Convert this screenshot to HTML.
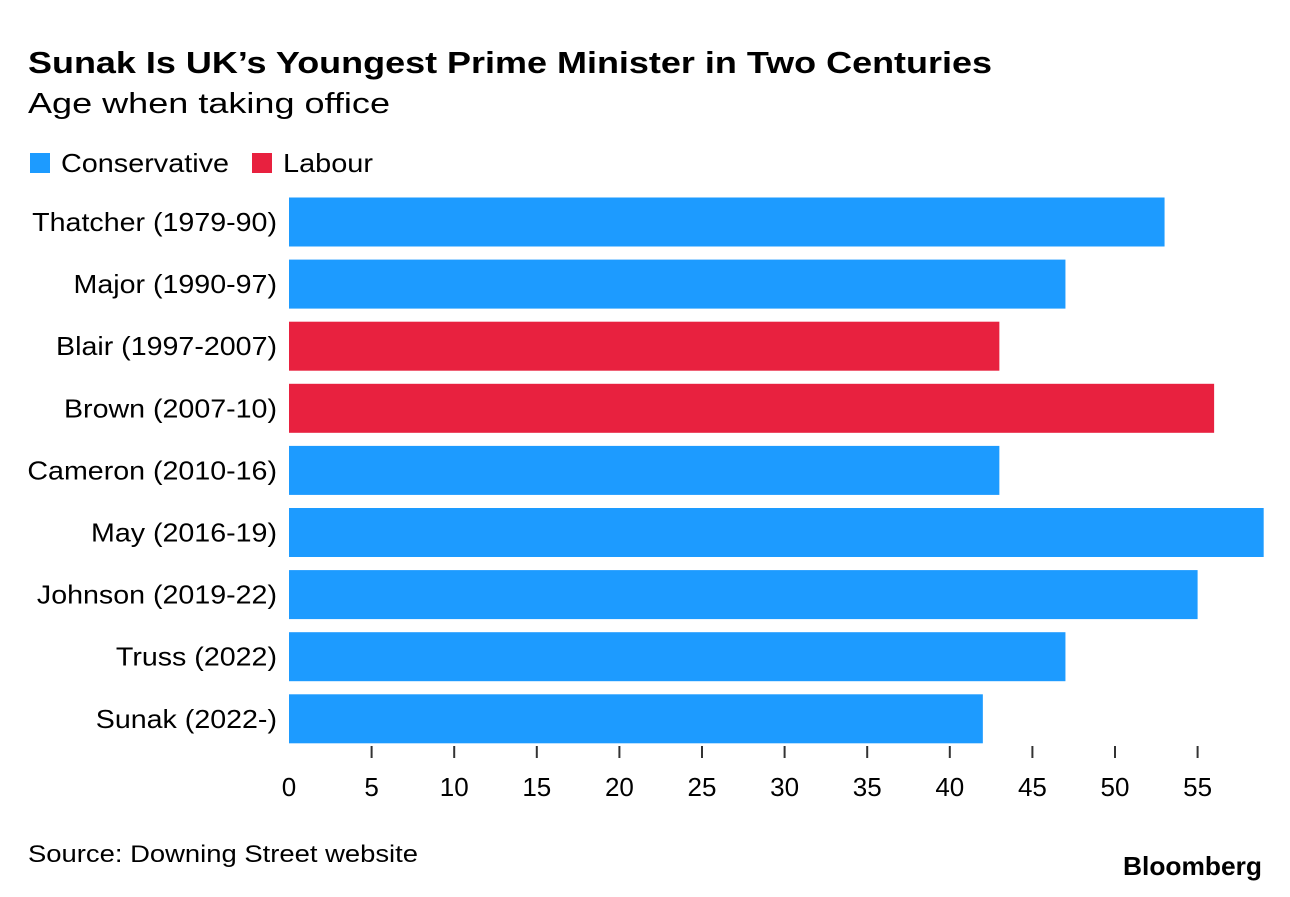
<!DOCTYPE html>
<html><head><meta charset="utf-8"><style>
body{margin:0;background:#fff;width:1290px;height:892px;overflow:hidden;font-family:"Liberation Sans",sans-serif}
svg text{font-family:"Liberation Sans",sans-serif}
</style></head><body>
<svg id="chart" width="1290" height="892" xmlns="http://www.w3.org/2000/svg">
<text x="28" y="73" font-size="31" font-weight="bold" fill="#000" textLength="964" lengthAdjust="spacingAndGlyphs">Sunak Is UK’s Youngest Prime Minister in Two Centuries</text>
<text x="28" y="113" font-size="29" fill="#000" textLength="362" lengthAdjust="spacingAndGlyphs">Age when taking office</text>
<g>
<rect x="30" y="153" width="20" height="20" fill="#1D9BFF"/>
<text x="61" y="172" font-size="26" fill="#000" textLength="168" lengthAdjust="spacingAndGlyphs">Conservative</text>
<rect x="252" y="153" width="20" height="20" fill="#E8213F"/>
<text x="283" y="172" font-size="26" fill="#000" textLength="90" lengthAdjust="spacingAndGlyphs">Labour</text>
</g>
<g id="bars"></g>
<g id="axis"></g>
<text x="28" y="862" font-size="24" fill="#000" textLength="390" lengthAdjust="spacingAndGlyphs">Source: Downing Street website</text>
<text x="1123" y="875" font-size="26" font-weight="bold" fill="#000" textLength="139" lengthAdjust="spacingAndGlyphs">Bloomberg</text>
</svg>
<script>
const categories=["Thatcher (1979-90)","Major (1990-97)","Blair (1997-2007)","Brown (2007-10)","Cameron (2010-16)","May (2016-19)","Johnson (2019-22)","Truss (2022)","Sunak (2022-)"];
const ages=[53,47,43,56,43,59,55,47,42];
const parties=["Conservative","Conservative","Labour","Labour","Conservative","Conservative","Conservative","Conservative","Conservative"];
const ticks=[0,5,10,15,20,25,30,35,40,45,50,55];
const NS="http://www.w3.org/2000/svg";
const x=v=>289+v*16.52;
const y=i=>197.5+i*62.1;
const bh=49;
const colors={Conservative:"#1D9BFF",Labour:"#E8213F"};
const bars=document.getElementById('bars');
categories.forEach((c,i)=>{
  const r=document.createElementNS(NS,'rect');
  
  
  r.setAttribute('x',x(0));r.setAttribute('y',y(i));
  r.setAttribute('width',x(ages[i])-x(0));r.setAttribute('height',bh);
  r.setAttribute('fill',colors[parties[i]]);
  bars.appendChild(r);
  const t=document.createElementNS(NS,'text');
  
  
  t.setAttribute('x',277);t.setAttribute('y',y(i)+bh/2+9);
  t.setAttribute('text-anchor','end');t.setAttribute('font-size','26');
  t.textContent=c;bars.appendChild(t);
  const w=t.getComputedTextLength();
  t.setAttribute('textLength',w*1.1);
  t.setAttribute('lengthAdjust','spacingAndGlyphs');
});
const axis=document.getElementById('axis');
ticks.forEach(v=>{
  if(v>0){
    const l=document.createElementNS(NS,'line');
    
    
    l.setAttribute('x1',x(v));l.setAttribute('x2',x(v));
    l.setAttribute('y1',746);l.setAttribute('y2',758);
    l.setAttribute('stroke','#333');l.setAttribute('stroke-width','2');
    axis.appendChild(l);
  }
  const t=document.createElementNS(NS,'text');
  
  
  t.setAttribute('x',x(v));t.setAttribute('y',796);
  t.setAttribute('text-anchor','middle');t.setAttribute('font-size','26');
  t.textContent=v;axis.appendChild(t);
});
</script>
</body></html>
